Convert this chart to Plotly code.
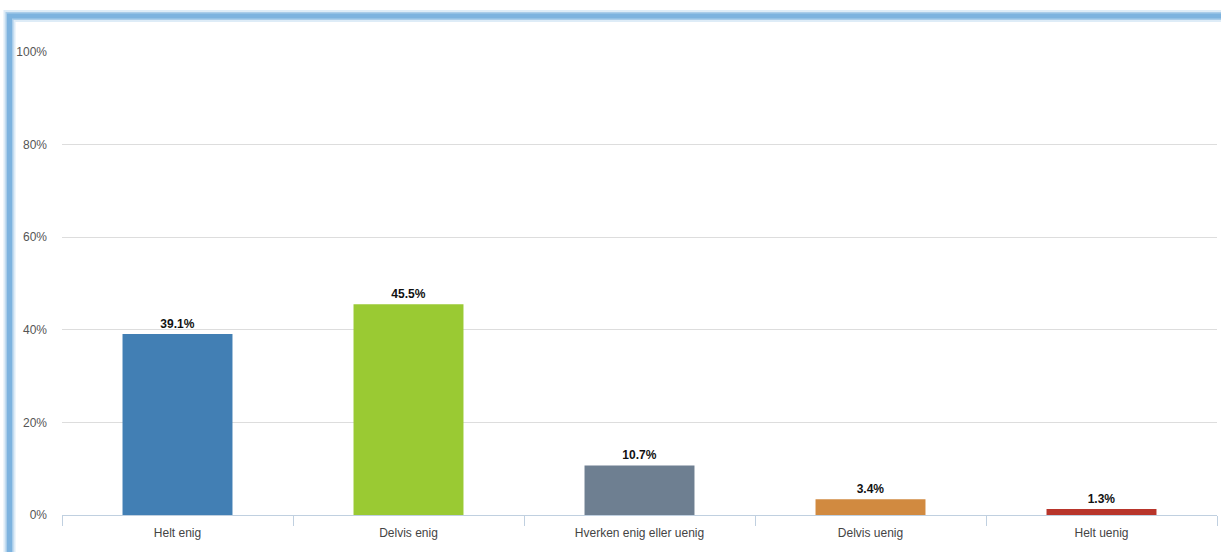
import plotly.graph_objects as go

categories = ["Helt enig", "Delvis enig", "Hverken enig eller uenig", "Delvis uenig", "Helt uenig"]
values = [39.1, 45.5, 10.7, 3.4, 1.3]
colors = ["#427FB4", "#9ACA33", "#6E7F91", "#D18A40", "#B8352B"]
y_ticks = [0, 20, 40, 60, 80, 100]
y_tick_labels = ["0%", "20%", "40%", "60%", "80%", "100%"]

W, H = 1221, 552
L, R, T, B = 62, 4, 52, 37
pw, ph = W - L - R, H - T - B
FONT = "Liberation Sans, Arial, sans-serif"


def px_x(p):
    return (p - L) / pw


def px_y(p):
    return (H - B - p) / ph


fig = go.Figure(
    go.Bar(
        x=categories,
        y=values,
        marker=dict(color=colors, line=dict(width=0)),
        width=0.476,
        text=[f"{v}%" for v in values],
        textposition="outside",
        textfont=dict(family=FONT, size=12, color="#111"),
        texttemplate="<b>%{text}</b>",
        cliponaxis=False,
        hoverinfo="skip",
    )
)

# window frame around the chart panel
frame_shapes = []
for width, color in [(12, "rgba(125,179,223,0.25)"), (8, "rgba(125,179,223,0.55)"), (5, "#7DB3DF")]:
    frame_shapes.append(
        dict(
            type="rect",
            xref="paper",
            yref="paper",
            x0=px_x(9.5),
            x1=px_x(W + 40),
            y0=px_y(16),
            y1=px_y(H + 40),
            line=dict(color=color, width=width),
            fillcolor="rgba(0,0,0,0)",
            layer="above",
        )
    )

fig.update_layout(
    width=W,
    height=H,
    margin=dict(l=L, r=R, t=T, b=B, pad=0),
    paper_bgcolor="white",
    plot_bgcolor="white",
    showlegend=False,
    bargap=0.524,
    font=dict(family=FONT, size=12, color="#555"),
    shapes=frame_shapes,
    xaxis=dict(
        type="category",
        showgrid=False,
        showline=True,
        linecolor="#C0D0E0",
        linewidth=1,
        ticks="outside",
        tickson="boundaries",
        ticklen=10,
        tickcolor="#C0D0E0",
        ticklabelstandoff=7,
        tickfont=dict(family=FONT, size=12, color="#444"),
        fixedrange=True,
    ),
    yaxis=dict(
        range=[0, 100],
        tickvals=y_ticks,
        ticktext=y_tick_labels,
        showgrid=True,
        gridcolor="#DDDDDD",
        gridwidth=1,
        zeroline=False,
        showline=False,
        ticks="",
        ticklabelstandoff=14,
        tickfont=dict(family=FONT, size=12, color="#555"),
        fixedrange=True,
    ),
)

fig.write_html("out.html")
